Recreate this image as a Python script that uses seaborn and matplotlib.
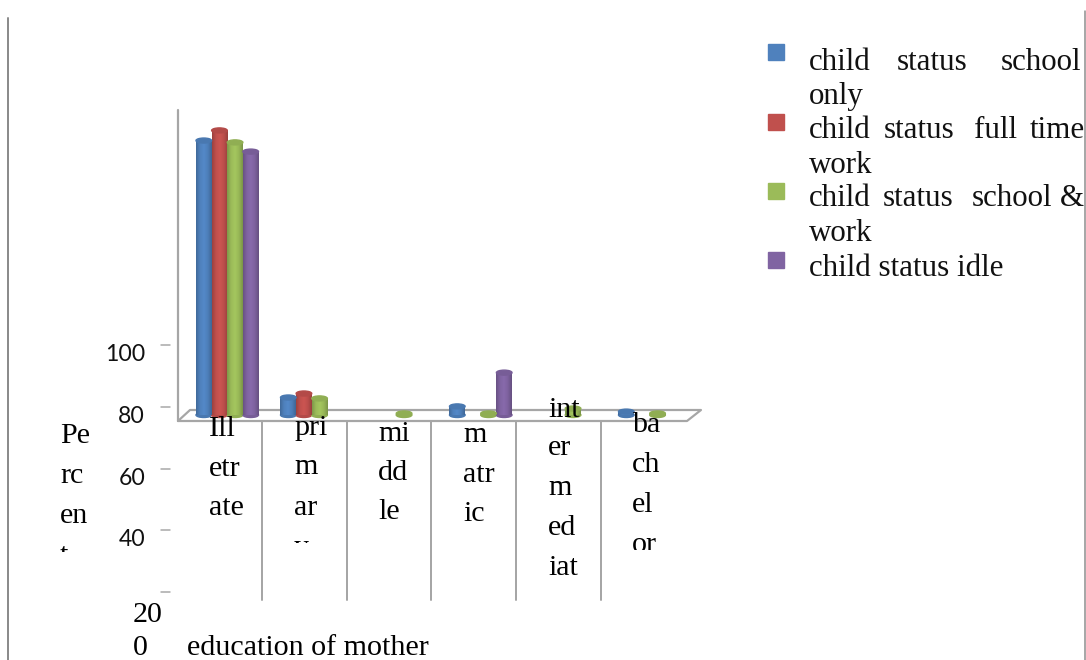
#!/usr/bin/env python3
"""Mother's education vs child status, cylinder-style grouped bars."""

import numpy as np
import pandas as pd
import matplotlib
matplotlib.use("Agg")
import matplotlib.pyplot as plt
from matplotlib.colors import LinearSegmentedColormap, to_rgb
from matplotlib.patches import Ellipse, Rectangle
import seaborn as sns

categories = ["Illiterate", "primary", "middle", "matric", "intermediate", "bachelor"]
school_only = [89.4, 5.7, 0, 2.8, 0, 1.1]
full_time = [92.7, 7.0, 0, 0, 0, 0]
school_work = [88.8, 5.4, 0.5, 0.5, 2.1, 0.5]
idle = [85.8, 0, 0, 13.8, 0, 0]

series_names = ["child status school only", "child status full time work",
                "child status school & work", "child status idle"]
colors = ["#4F81BD", "#C0504D", "#9BBB59", "#8064A2"]

tick_labels = ["100", "80", "60", "40"]
tick_rows = [345, 407, 469, 530, 592]

SERIF = "Liberation Serif"
SANS = "Lato"
GREY = "#a6a6a6"
W, H = 1086, 660


def px(size):
    return size * 0.72


def overlay(zorder):
    a = fig.add_axes([0, 0, 1, 1], zorder=zorder)
    a.set_xlim(0, W)
    a.set_ylim(H, 0)
    a.axis("off")
    a.patch.set_alpha(0)
    return a


def shade_bars(ax):
    # cylinder look: horizontal gradient clipped to each bar plus end caps
    ylim = ax.get_ylim()
    xlim = ax.get_xlim()
    cap = 5 / 3.07
    for patch in ax.patches:
        h = patch.get_height()
        if not h or np.isnan(h):
            continue
        x, w = patch.get_x(), patch.get_width()
        base = np.array(to_rgb(patch.get_facecolor()))
        cmap = LinearSegmentedColormap.from_list(
            "cyl", [base * 0.82, base * 1.0, np.minimum(base * 1.06, 1), base * 0.98, base * 0.8])
        grad = np.linspace(0, 1, 32).reshape(1, -1)
        im = ax.imshow(grad, cmap=cmap, extent=(x, x + w, 0, h), aspect="auto", zorder=3)
        im.set_clip_path(patch)
        ax.add_patch(Ellipse((x + w / 2, 0), w, cap, color=base * 0.93, zorder=1, clip_on=False))
        ax.add_patch(Ellipse((x + w / 2, h), w, cap, color=base * 0.93, zorder=4, clip_on=False))
    ax.set_xlim(xlim)
    ax.set_ylim(ylim)


df = pd.DataFrame({"education": categories, series_names[0]: school_only, series_names[1]: full_time,
                   series_names[2]: school_work, series_names[3]: idle})
long_df = df.melt(id_vars="education", var_name="status", value_name="percent")

sns.set_theme(style="white")
fig = plt.figure(figsize=(W / 100, H / 100), dpi=100)

# floor and wall sit behind the bars
back = overlay(0)
back.plot([178, 178], [110, 421], color=GREY, lw=px(2.2))
back.plot([178, 190, 701, 687, 178], [421, 410, 410, 421, 421], color=GREY, lw=px(2.2))

ax = fig.add_axes([185 / W, 1 - 415 / H, 507 / W, 307 / H], zorder=1)
sns.barplot(data=long_df, x="education", y="percent", hue="status", order=categories,
            hue_order=series_names, palette=colors, width=0.74, gap=0, saturation=1,
            legend=False, ax=ax, linewidth=0)
ax.set_ylim(0, 100)
ax.axis("off")
ax.patch.set_alpha(0)
shade_bars(ax)

front = overlay(2)
front.plot([8, 8], [18, 660], color="#8c8c8c", lw=px(2))
front.plot([1085, 1085], [11, 660], color="#8c8c8c", lw=px(1.5))
for x in [262, 347, 431, 516, 601]:
    front.plot([x, x], [421, 600], color=GREY, lw=px(2))
for row in tick_rows:
    front.plot([161, 170], [row, row], color=GREY, lw=px(1.5))
for label, row in zip(tick_labels, tick_rows):
    front.text(145, row + 16, label, family=SANS, fontsize=px(23), ha="right", va="baseline", color="#111111")


def stacked(x, lines, clip_row=None):
    # wrapped labels are stacked by hand: lines = [(text, baseline row), ...]
    for text, row in lines:
        t = front.text(x, row, text, family=SERIF, fontsize=px(30), ha="left", va="baseline", color="black")
        if clip_row is not None:
            t.set_clip_path(Rectangle((0, 0), W, clip_row, transform=front.transData))
            t.set_clip_on(True)


stacked(209, [("Ill", 436), ("etr", 476), ("ate", 515)])
stacked(294, [("pri", 435), ("m", 474), ("ar", 515), ("y", 555)], clip_row=543)
stacked(378, [("mi", 441), ("dd", 480), ("le", 519)])
stacked(463, [("m", 442), ("atr", 482), ("ic", 521)])
stacked(548, [("int", 417), ("er", 455), ("m", 495), ("ed", 535), ("iat", 575)])
stacked(632, [("ba", 432), ("ch", 472), ("el", 512), ("or", 552)], clip_row=550)
stacked(60, [("Pe", 443), ("rc", 483), ("en", 523), ("t", 563)], clip_row=552)
stacked(133, [("20", 622), ("0", 655)])
stacked(187, [("education of mother", 655)])

# legend text is justified in the source, so each word gets its own x
legend_rows = [
    (70, [("child", 809), ("status", 897), ("school", 1001)]),
    (104, [("only", 809)]),
    (138, [("child", 809), ("status", 884), ("full", 974), ("time", 1030)]),
    (173, [("work", 809)]),
    (206, [("child", 809), ("status", 883), ("school", 972), ("&", 1060)]),
    (241, [("work", 809)]),
    (276, [("child status idle", 809)]),
]
for row, words in legend_rows:
    for word, x in words:
        front.text(x, row, word, family=SERIF, fontsize=px(31), ha="left", va="baseline", color="#111111")
for color, row in zip(colors, [44, 114, 183, 252]):
    front.add_patch(Rectangle((768, row), 16, 16, color=color))

fig.savefig("out.png", dpi=100, facecolor="white")
